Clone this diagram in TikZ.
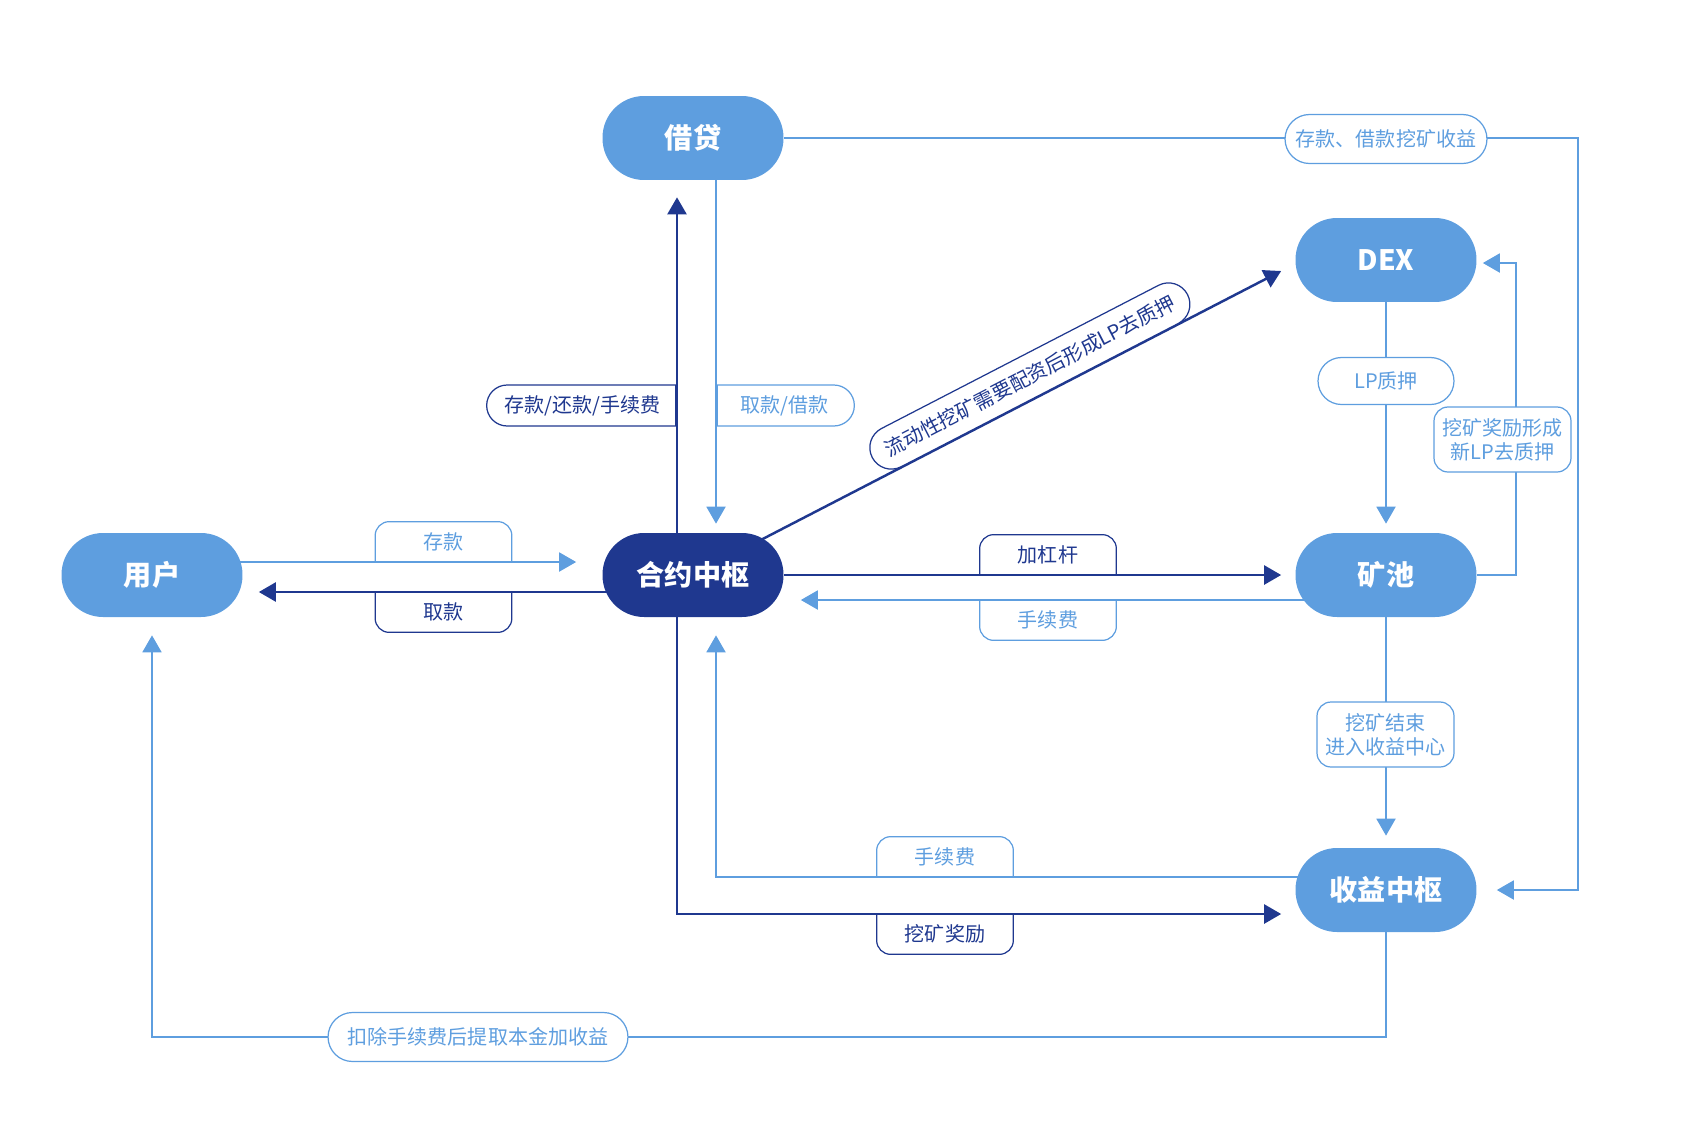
\documentclass[tikz,border=0pt]{standalone}
\usepackage{fontspec}
\setmainfont{Noto Sans CJK SC}
\usetikzlibrary{positioning,arrows.meta,calc,backgrounds,shapes.misc}
\definecolor{liteblue}{HTML}{5E9EDF}
\definecolor{hubdark}{HTML}{1F388F}

\tikzset{
  flow/.style={rectangle, rounded corners=0.83cm, fill=liteblue, minimum width=3.62cm,
    minimum height=1.68cm, inner sep=0pt, text=white, font=\fontsize{16}{19}\selectfont\bfseries},
  liteline/.style={draw=liteblue, line width=1.1pt},
  darkline/.style={draw=hubdark, line width=1.4pt},
  litearrow/.style={liteline, -{Triangle[length=0.34cm,width=0.38cm]}},
  darkarrow/.style={darkline, -{Triangle[length=0.34cm,width=0.38cm]}},
  tag/.style={inner sep=0pt, font=\fontsize{11.4}{13.7}\selectfont, align=center},
  pill/.style={tag, rounded rectangle, draw, fill=white, line width=0.7pt},
  tabtxt/.style={tag, minimum width=2.72cm, minimum height=0.8cm},
  tabedge/.style={line width=0.7pt, rounded corners=0.28cm},
}

\begin{document}
\begin{tikzpicture}[x=0.02cm,y=-0.02cm]
  \useasboundingbox (0,0) rectangle (1688,1140);

  % main boxes
  \node[flow,fill=hubdark] (hub) at (693,575) {合约中枢};
  \node[flow] (jd) at (693,138) {借贷};
  \node[flow] (dex) at (1386,260) {DEX};
  \node[flow] (yh) at (152,575) {用户};
  \node[flow] (kc) at (1386,575) {矿池};
  \node[flow] (sy) at (1386,890) {收益中枢};

  \begin{scope}[on background layer]
    \draw[litearrow] (jd) -- (1578,138) |- ($(sy.east)+(20,0)$);
    \draw[litearrow] ($(jd.south)+(23,0)$) -- ($(hub.north)+(23,-9)$);
    \draw[darkarrow] ($(hub.north)+(-16,0)$) -- ($(jd.south)+(-16,17)$);
    \draw[litearrow] ($(yh.center)+(0,-13)$) -- ($(hub.west)+(-26,-13)$);
    \draw[darkarrow] ($(hub.center)+(0,17)$) -- ($(yh.east)+(16,17)$);
    \draw[darkarrow] (hub.east) -- ($(kc.west)+(-14,0)$);
    \draw[litearrow] ($(kc.center)+(0,25)$) -- ($(hub.east)+(17,25)$);
    \draw[darkarrow] ($(hub.center)+(-16,0)$) |- ($(sy.west)+(-14,24)$);
    \draw[litearrow] ($(sy.center)+(0,-13)$) -| ($(hub.south)+(23,18)$);
    \draw[litearrow] (dex) -- ($(kc.north)+(0,-9)$);
    \draw[litearrow] (kc.east) -- ++(39,0) |- ($(dex.east)+(6,3)$);
    \draw[litearrow] (kc) -- ($(sy.north)+(0,-12)$);
    \draw[litearrow] (sy.south) -- ++(0,105) -| ($(yh.south)+(0,18)$);
    \draw[darkarrow] (hub.center) -- ($(dex.west)+(-14,11)$)
      node[pos=0.59, sloped, anchor=south, pill, draw=hubdark, text=hubdark,
        minimum width=7.1cm, minimum height=0.86cm] (lbLiu) {流动性挖矿需要配资后形成LP去质押};
  \end{scope}

  % labels on the lines
  \node[pill, draw=liteblue, text=liteblue, minimum width=4.04cm, minimum height=0.98cm]
    (lbShouyi) at (1386,139) {存款、借款挖矿收益};
  \node[pill, draw=liteblue, text=liteblue, minimum width=2.72cm, minimum height=0.94cm]
    (lbLp) at (1386,381) {LP质押};
  \node[pill, draw=liteblue, text=liteblue, minimum width=6cm, minimum height=0.98cm]
    (lbTiqu) at (478,1037) {扣除手续费后提取本金加收益};
  \node[pill, rounded rectangle east arc=none, draw=hubdark, text=hubdark,
    minimum width=3.78cm, minimum height=0.82cm] (lbCunhuan) at (582.5,405.5) {存款/还款/手续费};
  \node[pill, rounded rectangle west arc=none, draw=liteblue, text=liteblue,
    minimum width=2.74cm, minimum height=0.82cm] (lbQujie) at (784.5,405.5) {取款/借款};
  \node[tag, draw=liteblue, text=liteblue, fill=white, line width=0.7pt, rounded corners=0.28cm,
    minimum width=2.74cm, minimum height=1.3cm] (lbXinlp) at (1502.5,439.5) {挖矿奖励形成\\新LP去质押};
  \node[tag, draw=liteblue, text=liteblue, fill=white, line width=0.7pt, rounded corners=0.28cm,
    minimum width=2.74cm, minimum height=1.3cm] (lbJieshu) at (1385.5,734.5) {挖矿结束\\进入收益中心};

  % tabs
  \node[tabtxt, text=liteblue] (lbCun) at (443.5,542) {存款};
  \node[tabtxt, text=hubdark] (lbQu) at (443.5,612) {取款};
  \node[tabtxt, text=hubdark] (lbGang) at (1048,555) {加杠杆};
  \node[tabtxt, text=liteblue] (lbFeeA) at (1048,620) {手续费};
  \node[tabtxt, text=liteblue] (lbFeeB) at (945,857) {手续费};
  \node[tabtxt, text=hubdark] (lbJiangli) at (945,934) {挖矿奖励};
  \draw[tabedge, liteblue] (lbCun.south west) -- (lbCun.north west) -- (lbCun.north east) -- (lbCun.south east);
  \draw[tabedge, hubdark] (lbQu.north west) -- (lbQu.south west) -- (lbQu.south east) -- (lbQu.north east);
  \draw[tabedge, hubdark] (lbGang.south west) -- (lbGang.north west) -- (lbGang.north east) -- (lbGang.south east);
  \draw[tabedge, liteblue] (lbFeeA.north west) -- (lbFeeA.south west) -- (lbFeeA.south east) -- (lbFeeA.north east);
  \draw[tabedge, liteblue] (lbFeeB.south west) -- (lbFeeB.north west) -- (lbFeeB.north east) -- (lbFeeB.south east);
  \draw[tabedge, hubdark] (lbJiangli.north west) -- (lbJiangli.south west) -- (lbJiangli.south east) -- (lbJiangli.north east);
\end{tikzpicture}
\end{document}
